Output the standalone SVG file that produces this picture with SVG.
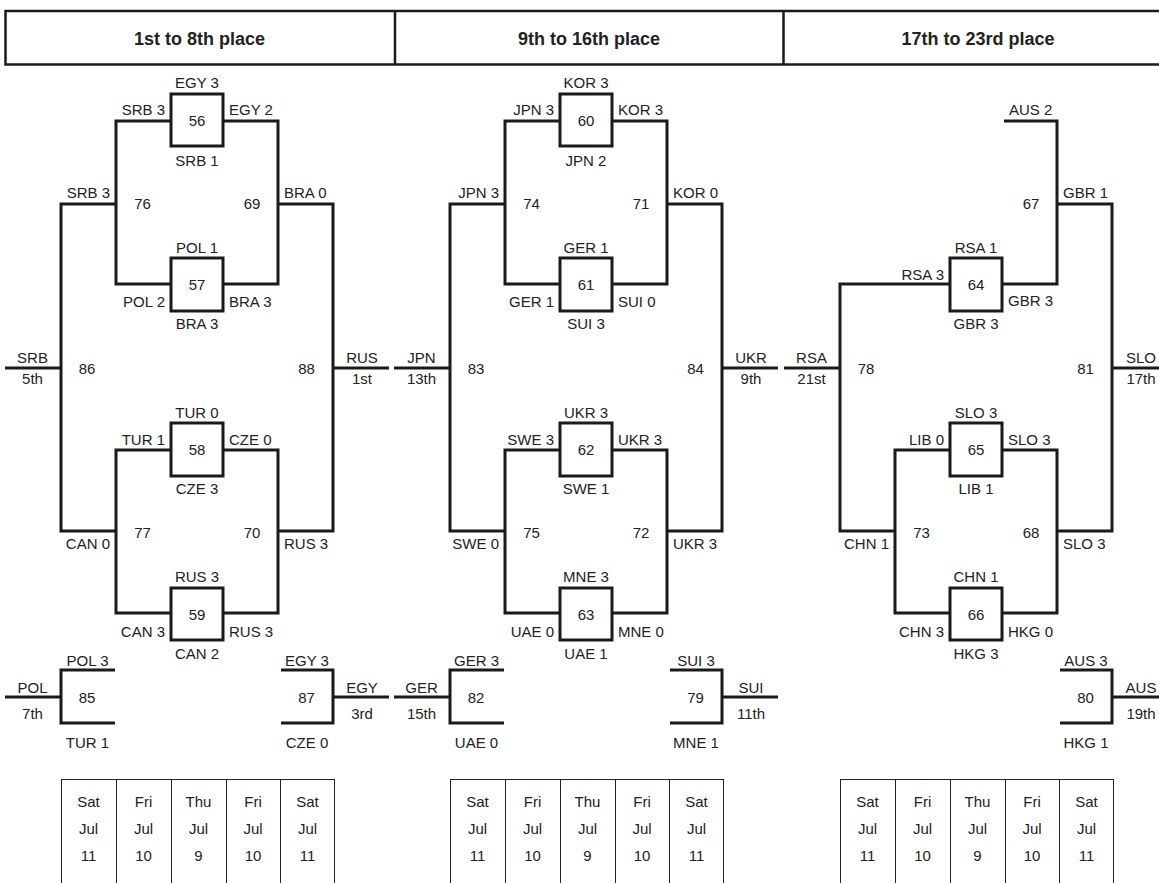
<svg xmlns="http://www.w3.org/2000/svg" width="1159" height="883" viewBox="0 0 1159 883">
<style>
.t{font-family:"Liberation Sans",Arial,sans-serif;font-size:15px;fill:#222}
.m{text-anchor:middle}
.e{text-anchor:end}
.h{font-family:"Liberation Sans",Arial,sans-serif;font-size:18px;font-weight:bold;fill:#222;text-anchor:middle}
.ln{fill:none;stroke:#1a1a1a;stroke-width:3;stroke-linejoin:miter;stroke-linecap:butt}
.bx{fill:#fff;stroke:#1a1a1a;stroke-width:3}
.tb{fill:none;stroke:#222;stroke-width:1}
</style>
<rect width="1159" height="883" fill="#fff"/>
<g id="header">
<rect x="5.5" y="11" width="1170" height="53.5" fill="none" stroke="#1a1a1a" stroke-width="2.5"/>
<path d="M395,11V64.5M783.5,11V64.5" stroke="#1a1a1a" stroke-width="2.5"/>
<text class="h" x="199.5" y="45">1st to 8th place</text>
<text class="h" x="589" y="45">9th to 16th place</text>
<text class="h" x="978" y="45">17th to 23rd place</text>
</g>
<g id="connectors">
<g id="conn-b1">
<path class="ln" d="M171,121H116V284H171M223,121H278V284H223M171,450H116V613H171M223,450H278V613H223M116,204H61V531H116M278,204H333V531H278M5,368H61M333,368H389M115,670H61V723H115M5,697H61M281,670H333V723H281M333,697H389"/>
</g>
<g id="conn-b2" transform="translate(389,0)">
<path class="ln" d="M171,121H116V284H171M223,121H278V284H223M171,450H116V613H171M223,450H278V613H223M116,204H61V531H116M278,204H333V531H278M5,368H61M333,368H389M115,670H61V723H115M5,697H61M281,670H333V723H281M333,697H389"/>
</g>
<g id="conn-b3" transform="translate(779,0)">
<path class="ln" d="M225,121H278V284H223M171,284H61V531H116M171,450H116V613H171M223,450H278V613H223M278,204H333V531H278M5,368H61M333,368H389M281,670H333V723H281M333,697H389"/>
</g>
</g>
<!-- Bracket 1 -->
<g id="b1">
<g id="m56"><rect class="bx" x="171" y="94" width="52" height="52"/><text class="t m" x="197" y="126">56</text><text class="t m" x="197" y="88">EGY 3</text><text class="t e" x="165" y="115">SRB 3</text><text class="t" x="229" y="115">EGY 2</text><text class="t m" x="197" y="166">SRB 1</text></g>
<g id="m57"><rect class="bx" x="171" y="258" width="52" height="53"/><text class="t m" x="197" y="290">57</text><text class="t m" x="197" y="253">POL 1</text><text class="t e" x="165" y="307">POL 2</text><text class="t" x="229" y="307">BRA 3</text><text class="t m" x="197" y="329">BRA 3</text></g>
<g id="m58"><rect class="bx" x="171" y="423" width="52" height="53"/><text class="t m" x="197" y="455">58</text><text class="t m" x="197" y="418">TUR 0</text><text class="t e" x="165" y="445">TUR 1</text><text class="t" x="229" y="445">CZE 0</text><text class="t m" x="197" y="494">CZE 3</text></g>
<g id="m59"><rect class="bx" x="171" y="588" width="52" height="52"/><text class="t m" x="197" y="620">59</text><text class="t m" x="197" y="582">RUS 3</text><text class="t e" x="165" y="637">CAN 3</text><text class="t" x="229" y="637">RUS 3</text><text class="t m" x="197" y="659">CAN 2</text></g>
<g id="m76"><text class="t m" x="142.5" y="209">76</text><text class="t e" x="110" y="198">SRB 3</text></g>
<g id="m69"><text class="t m" x="252" y="209">69</text><text class="t" x="284" y="198">BRA 0</text></g>
<g id="m77"><text class="t m" x="142.5" y="538">77</text><text class="t e" x="110" y="549">CAN 0</text></g>
<g id="m70"><text class="t m" x="252" y="538">70</text><text class="t" x="284" y="549">RUS 3</text></g>
<g id="m86"><text class="t m" x="87" y="374">86</text><text class="t m" x="32.5" y="363">SRB</text><text class="t m" x="32.5" y="384">5th</text></g>
<g id="m88"><text class="t m" x="306.5" y="374">88</text><text class="t m" x="362" y="363">RUS</text><text class="t m" x="362" y="384">1st</text></g>
<g id="m85"><text class="t m" x="87" y="703">85</text><text class="t m" x="87.5" y="666">POL 3</text><text class="t m" x="87.5" y="748">TUR 1</text><text class="t m" x="32.5" y="693">POL</text><text class="t m" x="32.5" y="719">7th</text></g>
<g id="m87"><text class="t m" x="306.5" y="703">87</text><text class="t m" x="307" y="666">EGY 3</text><text class="t m" x="307" y="748">CZE 0</text><text class="t m" x="362" y="693">EGY</text><text class="t m" x="362" y="719">3rd</text></g>
</g>
<!-- Bracket 2 -->
<g id="b2" transform="translate(389,0)">
<g id="m60"><rect class="bx" x="171" y="94" width="52" height="52"/><text class="t m" x="197" y="126">60</text><text class="t m" x="197" y="88">KOR 3</text><text class="t e" x="165" y="115">JPN 3</text><text class="t" x="229" y="115">KOR 3</text><text class="t m" x="197" y="166">JPN 2</text></g>
<g id="m61"><rect class="bx" x="171" y="258" width="52" height="53"/><text class="t m" x="197" y="290">61</text><text class="t m" x="197" y="253">GER 1</text><text class="t e" x="165" y="307">GER 1</text><text class="t" x="229" y="307">SUI 0</text><text class="t m" x="197" y="329">SUI 3</text></g>
<g id="m62"><rect class="bx" x="171" y="423" width="52" height="53"/><text class="t m" x="197" y="455">62</text><text class="t m" x="197" y="418">UKR 3</text><text class="t e" x="165" y="445">SWE 3</text><text class="t" x="229" y="445">UKR 3</text><text class="t m" x="197" y="494">SWE 1</text></g>
<g id="m63"><rect class="bx" x="171" y="588" width="52" height="52"/><text class="t m" x="197" y="620">63</text><text class="t m" x="197" y="582">MNE 3</text><text class="t e" x="165" y="637">UAE 0</text><text class="t" x="229" y="637">MNE 0</text><text class="t m" x="197" y="659">UAE 1</text></g>
<g id="m74"><text class="t m" x="142.5" y="209">74</text><text class="t e" x="110" y="198">JPN 3</text></g>
<g id="m71"><text class="t m" x="252" y="209">71</text><text class="t" x="284" y="198">KOR 0</text></g>
<g id="m75"><text class="t m" x="142.5" y="538">75</text><text class="t e" x="110" y="549">SWE 0</text></g>
<g id="m72"><text class="t m" x="252" y="538">72</text><text class="t" x="284" y="549">UKR 3</text></g>
<g id="m83"><text class="t m" x="87" y="374">83</text><text class="t m" x="32.5" y="363">JPN</text><text class="t m" x="32.5" y="384">13th</text></g>
<g id="m84"><text class="t m" x="306.5" y="374">84</text><text class="t m" x="362" y="363">UKR</text><text class="t m" x="362" y="384">9th</text></g>
<g id="m82"><text class="t m" x="87" y="703">82</text><text class="t m" x="87.5" y="666">GER 3</text><text class="t m" x="87.5" y="748">UAE 0</text><text class="t m" x="32.5" y="693">GER</text><text class="t m" x="32.5" y="719">15th</text></g>
<g id="m79"><text class="t m" x="306.5" y="703">79</text><text class="t m" x="307" y="666">SUI 3</text><text class="t m" x="307" y="748">MNE 1</text><text class="t m" x="362" y="693">SUI</text><text class="t m" x="362" y="719">11th</text></g>
</g>
<!-- Bracket 3 -->
<g id="b3" transform="translate(779,0)">
<g id="m64"><rect class="bx" x="171" y="258" width="52" height="53"/><text class="t m" x="197" y="290">64</text><text class="t m" x="197" y="253">RSA 1</text><text class="t e" x="165" y="280">RSA 3</text><text class="t" x="229" y="306">GBR 3</text><text class="t m" x="197" y="329">GBR 3</text></g>
<g id="m65"><rect class="bx" x="171" y="423" width="52" height="53"/><text class="t m" x="197" y="455">65</text><text class="t m" x="197" y="418">SLO 3</text><text class="t e" x="165" y="445">LIB 0</text><text class="t" x="229" y="445">SLO 3</text><text class="t m" x="197" y="494">LIB 1</text></g>
<g id="m66"><rect class="bx" x="171" y="588" width="52" height="52"/><text class="t m" x="197" y="620">66</text><text class="t m" x="197" y="582">CHN 1</text><text class="t e" x="165" y="637">CHN 3</text><text class="t" x="229" y="637">HKG 0</text><text class="t m" x="197" y="659">HKG 3</text></g>
<g id="m67"><text class="t m" x="252" y="209">67</text><text class="t" x="230" y="115">AUS 2</text><text class="t" x="284" y="198">GBR 1</text></g>
<g id="m73"><text class="t m" x="142.5" y="538">73</text><text class="t e" x="110" y="549">CHN 1</text></g>
<g id="m68"><text class="t m" x="252" y="538">68</text><text class="t" x="284" y="549">SLO 3</text></g>
<g id="m78"><text class="t m" x="87" y="374">78</text><text class="t m" x="32.5" y="363">RSA</text><text class="t m" x="32.5" y="384">21st</text></g>
<g id="m81"><text class="t m" x="306.5" y="374">81</text><text class="t m" x="362" y="363">SLO</text><text class="t m" x="362" y="384">17th</text></g>
<g id="m80"><text class="t m" x="306.5" y="703">80</text><text class="t m" x="307" y="666">AUS 3</text><text class="t m" x="307" y="748">HKG 1</text><text class="t m" x="362" y="693">AUS</text><text class="t m" x="362" y="719">19th</text></g>
</g>
<!-- Date tables -->
<g id="dates-b1">
<path class="tb" d="M61,779.5H334M61.5,779V883M116.5,779V883M171.5,779V883M226.5,779V883M280.5,779V883M334.5,779V883"/>
<text class="t m" x="88.5" y="807">Sat</text><text class="t m" x="88.5" y="834">Jul</text><text class="t m" x="88.5" y="861">11</text>
<text class="t m" x="143.5" y="807">Fri</text><text class="t m" x="143.5" y="834">Jul</text><text class="t m" x="143.5" y="861">10</text>
<text class="t m" x="198.5" y="807">Thu</text><text class="t m" x="198.5" y="834">Jul</text><text class="t m" x="198.5" y="861">9</text>
<text class="t m" x="253" y="807">Fri</text><text class="t m" x="253" y="834">Jul</text><text class="t m" x="253" y="861">10</text>
<text class="t m" x="307.5" y="807">Sat</text><text class="t m" x="307.5" y="834">Jul</text><text class="t m" x="307.5" y="861">11</text>
</g>
<g id="dates-b2" transform="translate(389,0)">
<path class="tb" d="M61,779.5H334M61.5,779V883M116.5,779V883M171.5,779V883M226.5,779V883M280.5,779V883M334.5,779V883"/>
<text class="t m" x="88.5" y="807">Sat</text><text class="t m" x="88.5" y="834">Jul</text><text class="t m" x="88.5" y="861">11</text>
<text class="t m" x="143.5" y="807">Fri</text><text class="t m" x="143.5" y="834">Jul</text><text class="t m" x="143.5" y="861">10</text>
<text class="t m" x="198.5" y="807">Thu</text><text class="t m" x="198.5" y="834">Jul</text><text class="t m" x="198.5" y="861">9</text>
<text class="t m" x="253" y="807">Fri</text><text class="t m" x="253" y="834">Jul</text><text class="t m" x="253" y="861">10</text>
<text class="t m" x="307.5" y="807">Sat</text><text class="t m" x="307.5" y="834">Jul</text><text class="t m" x="307.5" y="861">11</text>
</g>
<g id="dates-b3" transform="translate(779,0)">
<path class="tb" d="M61,779.5H334M61.5,779V883M116.5,779V883M171.5,779V883M226.5,779V883M280.5,779V883M334.5,779V883"/>
<text class="t m" x="88.5" y="807">Sat</text><text class="t m" x="88.5" y="834">Jul</text><text class="t m" x="88.5" y="861">11</text>
<text class="t m" x="143.5" y="807">Fri</text><text class="t m" x="143.5" y="834">Jul</text><text class="t m" x="143.5" y="861">10</text>
<text class="t m" x="198.5" y="807">Thu</text><text class="t m" x="198.5" y="834">Jul</text><text class="t m" x="198.5" y="861">9</text>
<text class="t m" x="253" y="807">Fri</text><text class="t m" x="253" y="834">Jul</text><text class="t m" x="253" y="861">10</text>
<text class="t m" x="307.5" y="807">Sat</text><text class="t m" x="307.5" y="834">Jul</text><text class="t m" x="307.5" y="861">11</text>
</g>
</svg>
